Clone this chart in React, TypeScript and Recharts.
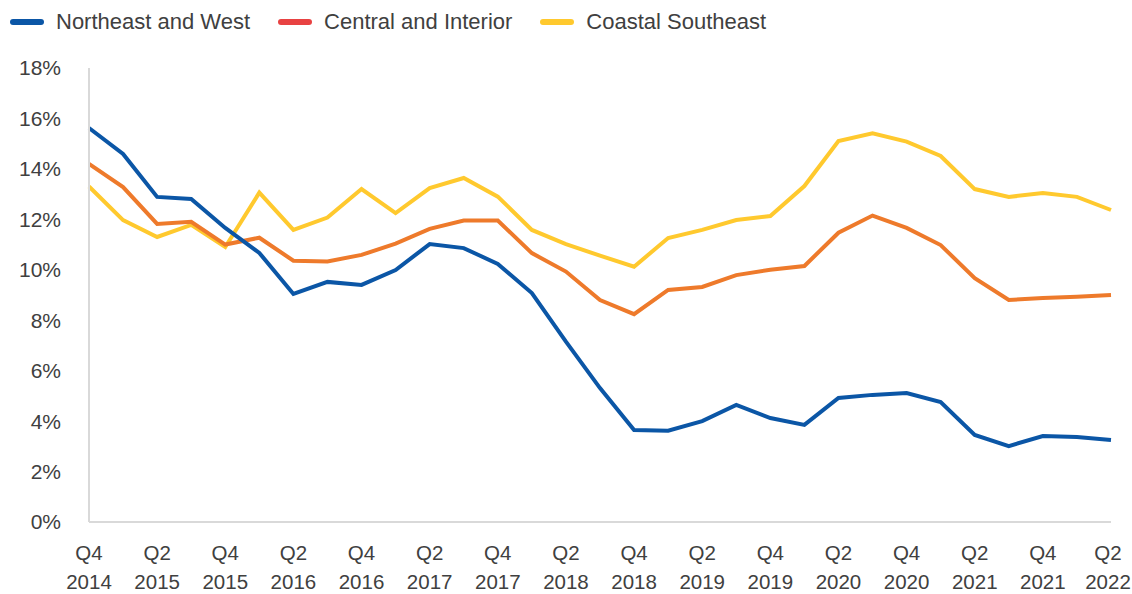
import React from "react";
import { LineChart, Line, XAxis, YAxis } from "recharts";

const categories = [
  "Q4 2014",
  "Q1 2015", "Q2 2015", "Q3 2015", "Q4 2015",
  "Q1 2016", "Q2 2016", "Q3 2016", "Q4 2016",
  "Q1 2017", "Q2 2017", "Q3 2017", "Q4 2017",
  "Q1 2018", "Q2 2018", "Q3 2018", "Q4 2018",
  "Q1 2019", "Q2 2019", "Q3 2019", "Q4 2019",
  "Q1 2020", "Q2 2020", "Q3 2020", "Q4 2020",
  "Q1 2021", "Q2 2021", "Q3 2021", "Q4 2021",
  "Q1 2022", "Q2 2022",
];

const northeastWest = [
  15.62, 14.59, 12.89, 12.81, 11.66, 10.67, 9.04, 9.52, 9.4, 9.99,
  11.02, 10.86, 10.23, 9.08, 7.15, 5.31, 3.65, 3.62, 4.0, 4.64,
  4.12, 3.85, 4.92, 5.04, 5.11, 4.76, 3.45, 3.01, 3.41, 3.37, 3.25,
];

const centralInterior = [
  14.2, 13.28, 11.82, 11.9, 11.0, 11.27, 10.36, 10.33, 10.59, 11.04,
  11.62, 11.95, 11.95, 10.66, 9.93, 8.8, 8.24, 9.2, 9.32, 9.79,
  10.0, 10.15, 11.47, 12.15, 11.66, 10.98, 9.67, 8.8, 8.88, 8.93, 9.0,
];

const coastalSoutheast = [
  13.3, 11.97, 11.3, 11.78, 10.9, 13.06, 11.58, 12.07, 13.2, 12.25,
  13.24, 13.64, 12.9, 11.58, 11.02, 10.56, 10.12, 11.26, 11.58, 11.97,
  12.13, 13.32, 15.1, 15.41, 15.08, 14.51, 13.2, 12.89, 13.04, 12.89, 12.37,
];

const yTicks = [0, 2, 4, 6, 8, 10, 12, 14, 16, 18];

const seriesNames = ["Northeast and West", "Central and Interior", "Coastal Southeast"];
const lineColors = ["#0B56A6", "#EE7A2B", "#FFC92E"];
const legendColors = ["#0B56A6", "#E84242", "#FFC92E"];

const data = categories.map((c, i) => ({
  cat: c,
  ne: northeastWest[i],
  ci: centralInterior[i],
  cs: coastalSoutheast[i],
}));

const FONT = "'Liberation Sans', Arial, sans-serif";
const TEXT = "#404040";

const XTick = (props: any) => {
  const { x, y, payload, index } = props;
  const parts = String(payload.value).split(" ");
  const isLast = index === categories.length - 1 || payload.value === categories[categories.length - 1];
  const tx = isLast ? Math.min(x, 1108) : x;
  return (
    <g>
      <text x={tx} y={y + 38} textAnchor="middle" fill={TEXT} fontSize={20.5} fontFamily={FONT}>
        {parts[0]}
      </text>
      <text x={tx} y={y + 67} textAnchor="middle" fill={TEXT} fontSize={20.5} fontFamily={FONT}>
        {parts[1]}
      </text>
    </g>
  );
};

export default function App() {
  return (
    <div
      style={{
        position: "absolute",
        left: 0,
        top: 0,
        width: 1132,
        height: 594,
        background: "#ffffff",
        fontFamily: FONT,
      }}
    >
      <div
        style={{
          position: "absolute",
          left: 10,
          top: 8,
          height: 28,
          display: "flex",
          alignItems: "center",
        }}
      >
        {seriesNames.map((n, i) => (
          <div key={n} style={{ display: "flex", alignItems: "center", marginRight: 28 }}>
            <div
              style={{
                width: 34,
                height: 6,
                borderRadius: 3,
                background: legendColors[i],
                marginRight: 12,
              }}
            />
            <span style={{ fontSize: 22, color: TEXT, whiteSpace: "nowrap" }}>{n}</span>
          </div>
        ))}
      </div>
      <div style={{ position: "absolute", left: 0, top: 0 }}>
        <LineChart
          width={1132}
          height={594}
          data={data}
          margin={{ top: 68, right: 21, bottom: 0, left: 0 }}
        >
          <XAxis
            dataKey="cat"
            interval={1}
            tick={<XTick />}
            tickLine={false}
            tickSize={0}
            tickMargin={0}
            height={72}
            axisLine={{ stroke: "#D9D9D9", strokeWidth: 2 }}
          />
          <YAxis
            domain={[0, 18]}
            ticks={yTicks}
            tickFormatter={(v: number) => `${v}%`}
            width={89}
            tickLine={false}
            tickSize={0}
            tickMargin={28}
            axisLine={{ stroke: "#D9D9D9", strokeWidth: 2 }}
            tick={{ fill: TEXT, fontSize: 21, fontFamily: FONT }}
          />
          <Line dataKey="cs" stroke={lineColors[2]} strokeWidth={4} dot={false} isAnimationActive={false} />
          <Line dataKey="ci" stroke={lineColors[1]} strokeWidth={4} dot={false} isAnimationActive={false} />
          <Line dataKey="ne" stroke={lineColors[0]} strokeWidth={4} dot={false} isAnimationActive={false} />
        </LineChart>
      </div>
    </div>
  );
}
